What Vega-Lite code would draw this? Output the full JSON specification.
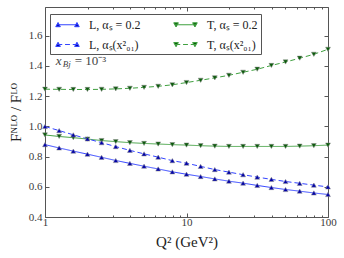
{
  "$schema": "https://vega.github.io/schema/vega-lite/v6.json",
  "width": 283,
  "height": 210,
  "autosize": {"type": "none"},
  "padding": {"left": 45, "top": 7, "right": 16, "bottom": 41},
  "config": {
    "view": {"stroke": "#555555", "strokeWidth": 1},
    "font": "Liberation Serif",
    "axis": {
      "domain": false,
      "grid": false,
      "tickColor": "#555555",
      "labelColor": "#3a3a3a",
      "labelFont": "Liberation Serif",
      "labelFontSize": 11,
      "titleFont": "Liberation Serif",
      "titleFontWeight": "normal",
      "titleColor": "#222222",
      "titleFontSize": 15
    }
  },
  "datasets": {
    "curves": [
      {"q": 1, "v": 0.879, "series": "L, αₛ = 0.2"},
      {"q": 1.259, "v": 0.857, "series": "L, αₛ = 0.2"},
      {"q": 1.585, "v": 0.836, "series": "L, αₛ = 0.2"},
      {"q": 1.995, "v": 0.816, "series": "L, αₛ = 0.2"},
      {"q": 2.512, "v": 0.795, "series": "L, αₛ = 0.2"},
      {"q": 3.162, "v": 0.774, "series": "L, αₛ = 0.2"},
      {"q": 3.981, "v": 0.755, "series": "L, αₛ = 0.2"},
      {"q": 5.012, "v": 0.736, "series": "L, αₛ = 0.2"},
      {"q": 6.31, "v": 0.718, "series": "L, αₛ = 0.2"},
      {"q": 7.943, "v": 0.699, "series": "L, αₛ = 0.2"},
      {"q": 10, "v": 0.683, "series": "L, αₛ = 0.2"},
      {"q": 12.59, "v": 0.668, "series": "L, αₛ = 0.2"},
      {"q": 15.85, "v": 0.652, "series": "L, αₛ = 0.2"},
      {"q": 19.95, "v": 0.637, "series": "L, αₛ = 0.2"},
      {"q": 25.12, "v": 0.624, "series": "L, αₛ = 0.2"},
      {"q": 31.62, "v": 0.609, "series": "L, αₛ = 0.2"},
      {"q": 39.81, "v": 0.595, "series": "L, αₛ = 0.2"},
      {"q": 50.12, "v": 0.582, "series": "L, αₛ = 0.2"},
      {"q": 63.1, "v": 0.571, "series": "L, αₛ = 0.2"},
      {"q": 79.43, "v": 0.559, "series": "L, αₛ = 0.2"},
      {"q": 100, "v": 0.549, "series": "L, αₛ = 0.2"},
      {"q": 1, "v": 0.943, "series": "T, αₛ = 0.2"},
      {"q": 1.259, "v": 0.933, "series": "T, αₛ = 0.2"},
      {"q": 1.585, "v": 0.925, "series": "T, αₛ = 0.2"},
      {"q": 1.995, "v": 0.916, "series": "T, αₛ = 0.2"},
      {"q": 2.512, "v": 0.906, "series": "T, αₛ = 0.2"},
      {"q": 3.162, "v": 0.899, "series": "T, αₛ = 0.2"},
      {"q": 3.981, "v": 0.892, "series": "T, αₛ = 0.2"},
      {"q": 5.012, "v": 0.887, "series": "T, αₛ = 0.2"},
      {"q": 6.31, "v": 0.883, "series": "T, αₛ = 0.2"},
      {"q": 7.943, "v": 0.879, "series": "T, αₛ = 0.2"},
      {"q": 10, "v": 0.876, "series": "T, αₛ = 0.2"},
      {"q": 12.59, "v": 0.872, "series": "T, αₛ = 0.2"},
      {"q": 15.85, "v": 0.869, "series": "T, αₛ = 0.2"},
      {"q": 19.95, "v": 0.867, "series": "T, αₛ = 0.2"},
      {"q": 25.12, "v": 0.867, "series": "T, αₛ = 0.2"},
      {"q": 31.62, "v": 0.867, "series": "T, αₛ = 0.2"},
      {"q": 39.81, "v": 0.867, "series": "T, αₛ = 0.2"},
      {"q": 50.12, "v": 0.867, "series": "T, αₛ = 0.2"},
      {"q": 63.1, "v": 0.869, "series": "T, αₛ = 0.2"},
      {"q": 79.43, "v": 0.872, "series": "T, αₛ = 0.2"},
      {"q": 100, "v": 0.876, "series": "T, αₛ = 0.2"},
      {"q": 1, "v": 0.999, "series": "L, αₛ(x²₀₁)"},
      {"q": 1.259, "v": 0.972, "series": "L, αₛ(x²₀₁)"},
      {"q": 1.585, "v": 0.944, "series": "L, αₛ(x²₀₁)"},
      {"q": 1.995, "v": 0.917, "series": "L, αₛ(x²₀₁)"},
      {"q": 2.512, "v": 0.892, "series": "L, αₛ(x²₀₁)"},
      {"q": 3.162, "v": 0.866, "series": "L, αₛ(x²₀₁)"},
      {"q": 3.981, "v": 0.841, "series": "L, αₛ(x²₀₁)"},
      {"q": 5.012, "v": 0.818, "series": "L, αₛ(x²₀₁)"},
      {"q": 6.31, "v": 0.796, "series": "L, αₛ(x²₀₁)"},
      {"q": 7.943, "v": 0.773, "series": "L, αₛ(x²₀₁)"},
      {"q": 10, "v": 0.756, "series": "L, αₛ(x²₀₁)"},
      {"q": 12.59, "v": 0.735, "series": "L, αₛ(x²₀₁)"},
      {"q": 15.85, "v": 0.714, "series": "L, αₛ(x²₀₁)"},
      {"q": 19.95, "v": 0.697, "series": "L, αₛ(x²₀₁)"},
      {"q": 25.12, "v": 0.68, "series": "L, αₛ(x²₀₁)"},
      {"q": 31.62, "v": 0.664, "series": "L, αₛ(x²₀₁)"},
      {"q": 39.81, "v": 0.649, "series": "L, αₛ(x²₀₁)"},
      {"q": 50.12, "v": 0.635, "series": "L, αₛ(x²₀₁)"},
      {"q": 63.1, "v": 0.623, "series": "L, αₛ(x²₀₁)"},
      {"q": 79.43, "v": 0.611, "series": "L, αₛ(x²₀₁)"},
      {"q": 100, "v": 0.599, "series": "L, αₛ(x²₀₁)"},
      {"q": 1, "v": 1.246, "series": "T, αₛ(x²₀₁)"},
      {"q": 1.259, "v": 1.245, "series": "T, αₛ(x²₀₁)"},
      {"q": 1.585, "v": 1.244, "series": "T, αₛ(x²₀₁)"},
      {"q": 1.995, "v": 1.244, "series": "T, αₛ(x²₀₁)"},
      {"q": 2.512, "v": 1.245, "series": "T, αₛ(x²₀₁)"},
      {"q": 3.162, "v": 1.248, "series": "T, αₛ(x²₀₁)"},
      {"q": 3.981, "v": 1.252, "series": "T, αₛ(x²₀₁)"},
      {"q": 5.012, "v": 1.258, "series": "T, αₛ(x²₀₁)"},
      {"q": 6.31, "v": 1.265, "series": "T, αₛ(x²₀₁)"},
      {"q": 7.943, "v": 1.275, "series": "T, αₛ(x²₀₁)"},
      {"q": 10, "v": 1.29, "series": "T, αₛ(x²₀₁)"},
      {"q": 12.59, "v": 1.305, "series": "T, αₛ(x²₀₁)"},
      {"q": 15.85, "v": 1.321, "series": "T, αₛ(x²₀₁)"},
      {"q": 19.95, "v": 1.338, "series": "T, αₛ(x²₀₁)"},
      {"q": 25.12, "v": 1.358, "series": "T, αₛ(x²₀₁)"},
      {"q": 31.62, "v": 1.378, "series": "T, αₛ(x²₀₁)"},
      {"q": 39.81, "v": 1.403, "series": "T, αₛ(x²₀₁)"},
      {"q": 50.12, "v": 1.426, "series": "T, αₛ(x²₀₁)"},
      {"q": 63.1, "v": 1.451, "series": "T, αₛ(x²₀₁)"},
      {"q": 79.43, "v": 1.477, "series": "T, αₛ(x²₀₁)"},
      {"q": 100, "v": 1.51, "series": "T, αₛ(x²₀₁)"}
    ]
  },
  "resolve": {
    "scale": {"color": "independent", "strokeDash": "independent", "shape": "independent", "fill": "independent", "stroke": "independent"},
    "axis": {"x": "independent", "y": "independent"},
    "legend": {"color": "independent", "strokeDash": "independent", "shape": "independent", "fill": "independent", "stroke": "independent"}
  },
  "layer": [
    {
      "data": {"name": "curves"},
      "mark": {"type": "line", "strokeWidth": 1, "clip": true},
      "encoding": {
        "x": {"field": "q", "type": "quantitative",
          "scale": {"type": "log", "domain": [1, 100]},
          "axis": {"orient": "bottom", "values": [1, 10, 100], "format": "d", "tickSize": -4, "labelPadding": 3, "title": "Q²  (GeV²)", "titlePadding": 7, "labelFlush": false}},
        "y": {"field": "v", "type": "quantitative",
          "scale": {"domain": [0.4, 1.79], "nice": false, "zero": false},
          "axis": {"orient": "left", "values": [0.4, 0.6, 0.8, 1.0, 1.2, 1.4, 1.6], "format": ".1f", "tickSize": -4, "labelPadding": 7, "title": "Fᴺᴸᴼ / Fᴸᴼ", "titlePadding": 5}},
        "color": {"field": "series", "type": "nominal", "legend": null,
          "scale": {"domain": ["L, αₛ = 0.2", "T, αₛ = 0.2", "L, αₛ(x²₀₁)", "T, αₛ(x²₀₁)"], "range": ["#3344ff", "#3fa03f", "#3344ff", "#3fa03f"]}},
        "strokeDash": {"field": "series", "type": "nominal", "legend": null,
          "scale": {"domain": ["L, αₛ = 0.2", "T, αₛ = 0.2", "L, αₛ(x²₀₁)", "T, αₛ(x²₀₁)"], "range": [[1, 0], [1, 0], [5, 3], [5, 3]]}}
      }
    },
    {
      "data": {"name": "curves"},
      "mark": {"type": "point", "filled": true, "size": 24, "opacity": 1, "stroke": "#8a8a8a", "strokeWidth": 0.5},
      "encoding": {
        "x": {"field": "q", "type": "quantitative",
          "scale": {"type": "log", "domain": [1, 100]},
          "axis": {"orient": "top", "values": [1, 10, 100], "tickSize": -4, "labels": false, "title": null}},
        "y": {"field": "v", "type": "quantitative",
          "scale": {"domain": [0.4, 1.79], "nice": false, "zero": false},
          "axis": {"orient": "right", "values": [0.4, 0.6, 0.8, 1.0, 1.2, 1.4, 1.6], "tickSize": -4, "labels": false, "title": null}},
        "fill": {"field": "series", "type": "nominal", "legend": null,
          "scale": {"domain": ["L, αₛ = 0.2", "T, αₛ = 0.2", "L, αₛ(x²₀₁)", "T, αₛ(x²₀₁)"], "range": ["#0000aa", "#0a5c0a", "#0000aa", "#0a5c0a"]}},
        "shape": {"field": "series", "type": "nominal", "legend": null,
          "scale": {"domain": ["L, αₛ = 0.2", "T, αₛ = 0.2", "L, αₛ(x²₀₁)", "T, αₛ(x²₀₁)"], "range": ["triangle-up", "triangle-down", "triangle-up", "triangle-down"]}}
      }
    },
    {
      "data": {"name": "curves"},
      "mark": {"type": "point", "filled": true, "opacity": 0},
      "encoding": {
        "x": {"field": "q", "type": "quantitative",
          "scale": {"type": "log", "domain": [1, 100]},
          "axis": {"orient": "bottom", "values": [2, 3, 4, 5, 6, 7, 8, 9, 20, 30, 40, 50, 60, 70, 80, 90], "tickSize": -2, "labels": false, "title": null}},
        "y": {"field": "v", "type": "quantitative",
          "scale": {"domain": [0.4, 1.79], "nice": false, "zero": false}, "axis": null},
        "fill": {"field": "series", "type": "nominal",
          "scale": {"domain": ["L, αₛ = 0.2", "T, αₛ = 0.2", "L, αₛ(x²₀₁)", "T, αₛ(x²₀₁)"], "range": ["#0000aa", "#0a5c0a", "#0000aa", "#0a5c0a"]},
          "legend": {"title": null}},
        "stroke": {"field": "series", "type": "nominal",
          "scale": {"domain": ["L, αₛ = 0.2", "T, αₛ = 0.2", "L, αₛ(x²₀₁)", "T, αₛ(x²₀₁)"], "range": ["#3344ff", "#3fa03f", "#3344ff", "#3fa03f"]},
          "legend": {"title": null}},
        "shape": {"field": "series", "type": "nominal",
          "scale": {"domain": ["L, αₛ = 0.2", "T, αₛ = 0.2", "L, αₛ(x²₀₁)", "T, αₛ(x²₀₁)"],
            "range": [
              "M-1.5,0H1.5M-1.68,0.28L-1.35,-0.32L-1.02,0.28ZM1.02,0.28L1.35,-0.32L1.68,0.28Z",
              "M-1.5,0H1.5M-1.68,-0.28L-1.35,0.32L-1.02,-0.28ZM1.02,-0.28L1.35,0.32L1.68,-0.28Z",
              "M-1.5,0H-0.75M-0.35,0H0.35M0.75,0H1.5M-1.68,0.28L-1.35,-0.32L-1.02,0.28ZM1.02,0.28L1.35,-0.32L1.68,0.28Z",
              "M-1.5,0H-0.75M-0.35,0H0.35M0.75,0H1.5M-1.68,-0.28L-1.35,0.32L-1.02,-0.28ZM1.02,-0.28L1.35,0.32L1.68,-0.28Z"
            ]},
          "legend": {
            "title": null,
            "orient": "none",
            "legendX": 5,
            "legendY": 7,
            "direction": "horizontal",
            "columns": 2,
            "symbolSize": 196,
            "symbolStrokeWidth": 1,
            "symbolOpacity": 1,
            "symbolOffset": 7,
            "labelFont": "Liberation Serif",
            "labelFontSize": 12,
            "labelColor": "#222222",
            "labelOffset": 14,
            "labelLimit": 200,
            "strokeColor": "#555555",
            "fillColor": "#ffffff",
            "padding": 3,
            "rowPadding": 6,
            "columnPadding": 30
          }}
      }
    },
    {
      "data": {"values": [{"q": 1.19, "v": 1.43, "t": "x"}]},
      "mark": {"type": "text", "align": "left", "baseline": "middle", "fontStyle": "italic", "fontSize": 13, "color": "#444444", "font": "Liberation Serif"},
      "encoding": {
        "x": {"field": "q", "type": "quantitative",
          "scale": {"type": "log", "domain": [1, 100]},
          "axis": {"orient": "top", "values": [2, 3, 4, 5, 6, 7, 8, 9, 20, 30, 40, 50, 60, 70, 80, 90], "tickSize": -2, "labels": false, "title": null}},
        "y": {"field": "v", "type": "quantitative", "scale": {"domain": [0.4, 1.79], "nice": false, "zero": false}, "axis": null},
        "text": {"field": "t"}
      }
    },
    {
      "data": {"values": [{"q": 1.19, "v": 1.43, "t": "Bj"}]},
      "mark": {"type": "text", "align": "left", "baseline": "middle", "fontStyle": "italic", "fontSize": 9, "dx": 7, "dy": 3, "color": "#444444", "font": "Liberation Serif"},
      "encoding": {
        "x": {"field": "q", "type": "quantitative", "scale": {"type": "log", "domain": [1, 100]}, "axis": null},
        "y": {"field": "v", "type": "quantitative", "scale": {"domain": [0.4, 1.79], "nice": false, "zero": false}, "axis": null},
        "text": {"field": "t"}
      }
    },
    {
      "data": {"values": [{"q": 1.19, "v": 1.43, "t": "= 10⁻³"}]},
      "mark": {"type": "text", "align": "left", "baseline": "middle", "fontSize": 13, "dx": 19, "color": "#444444", "font": "Liberation Serif"},
      "encoding": {
        "x": {"field": "q", "type": "quantitative", "scale": {"type": "log", "domain": [1, 100]}, "axis": null},
        "y": {"field": "v", "type": "quantitative", "scale": {"domain": [0.4, 1.79], "nice": false, "zero": false}, "axis": null},
        "text": {"field": "t"}
      }
    }
  ]
}
